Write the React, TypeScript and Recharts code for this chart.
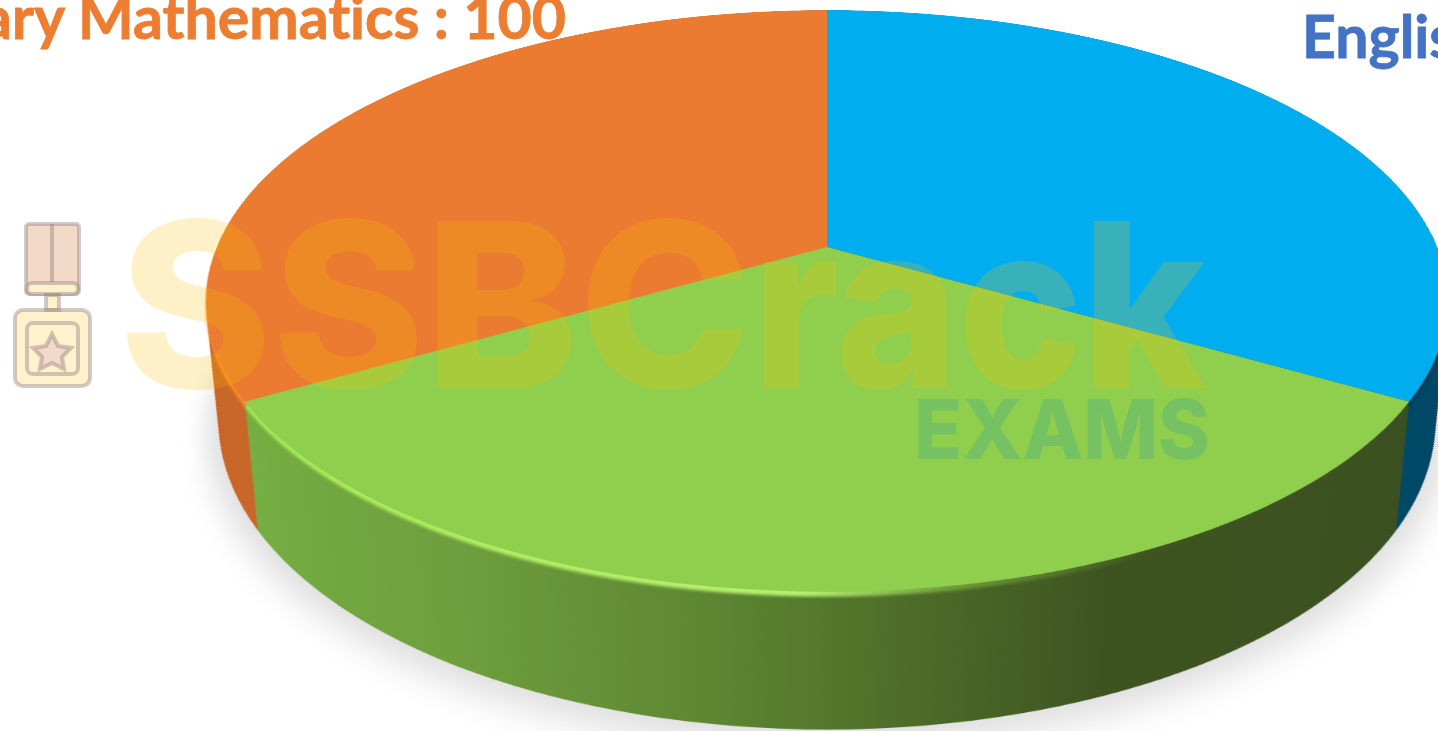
import { Cell, Pie, PieChart } from 'recharts';

const subjects = ['English', 'General Knowledge', 'Elementary Mathematics'];
const marks = [100, 100, 100];

const topColors = ['#00AEEF', '#90CF4E', '#EA7B31'];
const wallColors = ['#004A68', 'url(#greenWall)', '#C9682B'];
const rimColors = ['#00384f', 'url(#greenRim)', '#FF8F26'];

const pieData = subjects.map((name, i) => ({ name, value: marks[i] }));
const wholeDisc = [{ name: 'shadow', value: marks.reduce((a, b) => a + b, 0) }];

// pie is drawn flat, then tipped back with a css perspective to get the 3d look
const SIZE_W = 1300;
const SIZE_H = 1560;
const CX = 650;
const CY = 650;
const RADIUS = 610;
const BOTTOM_RADIUS = 554;
const BOTTOM_SHIFT = 241;
const WALL_STEPS = 130;

const wallSteps = Array.from({ length: WALL_STEPS + 1 }, (_, i) => 1 - i / WALL_STEPS);

function Slices({ fills }: { fills: string[] }) {
  return pieData.map((d, i) => <Cell key={d.name} fill={fills[i]} stroke="none" />);
}

function TiltedPie() {
  return (
    <div
      style={{
        position: 'absolute',
        left: 827 - CX,
        top: 247 - CY,
        width: SIZE_W,
        height: SIZE_H,
        transformOrigin: `${CX}px ${CY}px`,
        transform: 'perspective(2918px) rotateX(62.6deg)',
      }}
    >
      <PieChart width={SIZE_W} height={SIZE_H} margin={{ top: 0, right: 0, bottom: 0, left: 0 }}>
        <Pie
          data={wholeDisc}
          dataKey="value"
          cx={CX}
          cy={CY + BOTTOM_SHIFT + 14}
          outerRadius={BOTTOM_RADIUS + 8}
          stroke="none"
          fill="#dedede"
          filter="url(#softShadow)"
          isAnimationActive={false}
        />
        {wallSteps.map((t) => (
          <Pie
            key={t}
            data={pieData}
            dataKey="value"
            cx={CX}
            cy={CY + BOTTOM_SHIFT * t}
            outerRadius={RADIUS + (BOTTOM_RADIUS - RADIUS) * t}
            startAngle={90}
            endAngle={-270}
            stroke="none"
            isAnimationActive={false}
          >
            {Slices({ fills: wallColors })}
          </Pie>
        ))}
        <Pie
          data={pieData}
          dataKey="value"
          cx={CX}
          cy={CY + 8}
          outerRadius={RADIUS - 1}
          startAngle={90}
          endAngle={-270}
          stroke="none"
          filter="url(#rimBlur)"
          isAnimationActive={false}
        >
          {Slices({ fills: rimColors })}
        </Pie>
        <Pie
          data={pieData}
          dataKey="value"
          cx={CX}
          cy={CY}
          outerRadius={RADIUS}
          startAngle={90}
          endAngle={-270}
          stroke="none"
          isAnimationActive={false}
        >
          {Slices({ fills: topColors })}
        </Pie>
      </PieChart>
    </div>
  );
}

function Overlay() {
  return (
    <svg width={1438} height={731} style={{ position: 'absolute', left: 0, top: 0 }}>
      <g fontFamily="Inter, 'Open Sans', sans-serif" fontWeight={800}>
        <g fill="#FFC000" fillOpacity={0.22} fontSize={230}>
          <text x={119} y={388} textLength={632} lengthAdjust="spacingAndGlyphs">
            SSBC
          </text>
          <text x={752} y={388} textLength={454} lengthAdjust="spacingAndGlyphs">
            rack
          </text>
        </g>
        <text x={914} y={459} fontSize={82} fill="#2FA0A0" fillOpacity={0.27} textLength={296} lengthAdjust="spacingAndGlyphs">
          EXAMS
        </text>
      </g>
      <g fill="#FFC000" fillOpacity={0.2} stroke="#8a7a80" strokeOpacity={0.4} strokeWidth={4}>
        <rect x={26} y={224} width={53} height={70} rx={3} fill="#F3D9C8" fillOpacity={1} />
        <line x1={52} y1={224} x2={52} y2={282} />
        <rect x={27} y={283} width={51} height={11} rx={5} fill="#FDF1CC" fillOpacity={1} />
        <rect x={46} y={295} width={13} height={15} />
        <rect x={15} y={310} width={75} height={76} rx={8} />
        <rect x={27} y={323} width={51} height={51} rx={6} fill="none" />
        <path d="M52 334l6 12 13 2-9 9 2 12-12-6-12 6 2-12-9-9 13-2z" fill="#F2D8C8" fillOpacity={1} />
      </g>
      <g fontFamily="Lato, Carlito, sans-serif" fontWeight={700} fontSize={59} strokeWidth={0.8} style={{ fontVariantLigatures: 'none' }}>
        <text x={566} y={39} textAnchor="end" fill="#ED7D31" stroke="#ED7D31">
          Elementary Mathematics : {marks[2]}
        </text>
        <text x={1302} y={58} fill="#4472C4" stroke="#4472C4">
          English : {marks[0]}
        </text>
      </g>
    </svg>
  );
}

export default function App() {
  return (
    <div style={{ position: 'fixed', left: 0, top: 0, width: 1438, height: 731, overflow: 'hidden', background: '#fff' }}>
      <svg width={0} height={0} style={{ position: 'absolute' }}>
        <defs>
          <linearGradient id="greenWall" x1="0" y1="0" x2="1" y2="0">
            <stop offset="0%" stopColor="#76AE42" />
            <stop offset="20%" stopColor="#6E9F3D" />
            <stop offset="40%" stopColor="#5E8733" />
            <stop offset="55%" stopColor="#4E6F29" />
            <stop offset="72%" stopColor="#3D5420" />
            <stop offset="100%" stopColor="#3B5020" />
          </linearGradient>
          <linearGradient id="greenRim" x1="0" y1="0" x2="1" y2="0">
            <stop offset="0%" stopColor="#A6EA55" />
            <stop offset="48%" stopColor="#B8F270" />
            <stop offset="60%" stopColor="#6E9A3A" />
            <stop offset="75%" stopColor="#3F5620" />
            <stop offset="100%" stopColor="#3B5020" />
          </linearGradient>
          <filter id="softShadow" x="-15%" y="-15%" width="130%" height="130%">
            <feGaussianBlur stdDeviation="11 22" />
          </filter>
          <filter id="rimBlur" x="-5%" y="-5%" width="110%" height="110%">
            <feGaussianBlur stdDeviation="1 2" />
          </filter>
        </defs>
      </svg>
      <TiltedPie />
      <Overlay />
    </div>
  );
}
